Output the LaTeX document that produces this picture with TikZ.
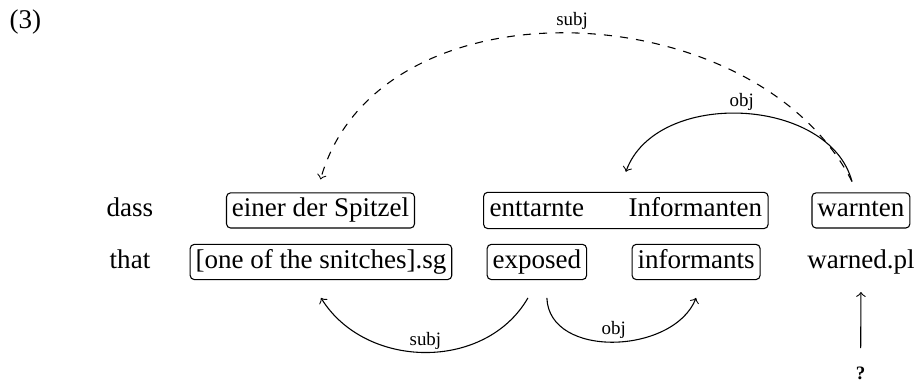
\documentclass[tikz,border=0pt]{standalone}
\usepackage{fontspec}
\setmainfont{Liberation Serif}
\usetikzlibrary{fit}

\begin{document}
\begin{tikzpicture}[
        word/.style={inner sep=2pt, text height=6.8pt, text depth=2.2pt},
        wbox/.style={word, draw, thin, rounded corners=1.5pt},
        rel/.style={font=\scriptsize, above, inner sep=1pt},
        dep/.style={->, thin}
    ]
        \useasboundingbox (0,0) rectangle (12,4.953);

        % Example number
        \node (num) at (0.33, 4.67) {(3)};

        % --- ROW 1 (German) ---
        \node[word] (dass) at (1.69, 2.217) {dass};
        \node[wbox] (einer) at (4.167, 2.217) {einer der Spitzel};
        \node[word] (ent) at (6.98, 2.217) {enttarnte};
        \node[word] (inf) at (9.04, 2.217) {Informanten};
        \node[draw, thin, rounded corners=1.5pt, inner sep=0pt, fit=(ent)(inf)] (entinf) {};
        \node[wbox] (warnten) at (11.193, 2.217) {warnten};

        % --- ROW 2 (Gloss) ---
        \node[word] (that) at (1.69, 1.547) {that};
        \node[wbox] (snitches) at (4.173, 1.547) {[one of the snitches].sg};
        \node[wbox] (exposed) at (6.98, 1.547) {exposed};
        \node[wbox] (informants) at (9.05, 1.547) {informants};
        \node[word] (warned) at (11.193, 1.547) {warned.pl};
        \node[inner sep=0pt, anchor=base, font=\scriptsize\bfseries] (q) at (11.19, 0.02) {?};

        % Arcs above
        \draw[dep, dashed] ([xshift=-3.3pt, yshift=4pt]warnten.north)
            to[out=117, in=74, looseness=1.02] node[rel] {subj} ([yshift=4.8pt]einer.north);
        \draw[dep] ([xshift=-3.3pt, yshift=4pt]warnten.north)
            to[out=105, in=70, looseness=1.0] node[rel] {obj} ([yshift=7.4pt]entinf.north);

        % Arcs below
        \draw[dep] ([xshift=-3.3pt, yshift=-6.6pt]exposed.south)
            to[out=-120, in=-58, looseness=1.05] node[rel] {subj} ([yshift=-6.6pt]snitches.south);
        \draw[dep] ([xshift=3.7pt, yshift=-6.6pt]exposed.south)
            to[out=-88, in=-112, looseness=1.05] node[rel] {obj} ([yshift=-6.6pt]informants.south);

        % Open question
        \draw[dep] ([yshift=6.7pt]q.north) -- ([yshift=-4.4pt]warned.south);
    \end{tikzpicture}
\end{document}
